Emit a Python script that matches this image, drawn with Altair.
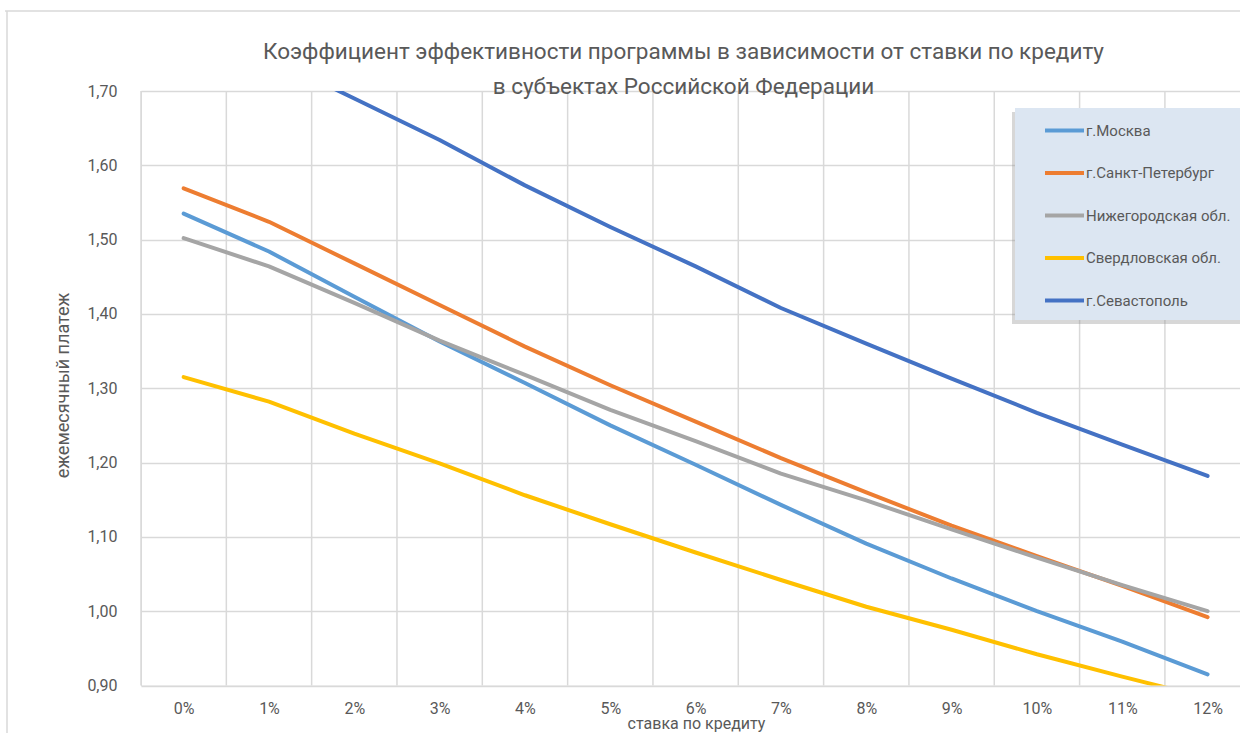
import altair as alt
import pandas as pd

# Credit rate (percent) on the horizontal axis
rates = [0, 1, 2, 3, 4, 5, 6, 7, 8, 9, 10, 11, 12]

regions = [
    "г.Москва",
    "г.Санкт-Петербург",
    "Нижегородская обл.",
    "Свердловская обл.",
    "г.Севастополь",
]
colors = ["#5B9BD5", "#ED7D31", "#A5A5A5", "#FFC000", "#4472C4"]

moscow = [1.535, 1.484, 1.423, 1.363, 1.307, 1.250, 1.197, 1.143, 1.091, 1.044, 1.000, 0.959, 0.915]
spb = [1.569, 1.524, 1.468, 1.412, 1.356, 1.304, 1.255, 1.206, 1.160, 1.115, 1.074, 1.034, 0.992]
nizhny = [1.502, 1.464, 1.415, 1.364, 1.318, 1.271, 1.229, 1.185, 1.149, 1.110, 1.072, 1.035, 1.000]
sverdlovsk = [1.315, 1.282, 1.239, 1.199, 1.156, 1.117, 1.079, 1.042, 1.006, 0.975, 0.942, 0.912, 0.883]
sevastopol = [1.800, 1.745, 1.690, 1.634, 1.573, 1.517, 1.464, 1.408, 1.360, 1.313, 1.267, 1.224, 1.182]

y_ticks = [0.90, 1.00, 1.10, 1.20, 1.30, 1.40, 1.50, 1.60, 1.70]

series = [moscow, spb, nizhny, sverdlovsk, sevastopol]
rows = []
for name, vals in zip(regions, series):
    for r, v in zip(rates, vals):
        rows.append({"rate": r, "value": v, "region": name})
df = pd.DataFrame(rows)

# category boundaries for the vertical grid
bounds = pd.DataFrame({"b": [r - 0.5 for r in rates]})

FONT = "Roboto"
TXT = "#595959"
GRID = "#D9D9D9"

x_scale = alt.Scale(domain=[-0.5, 12.38], nice=False, zero=False)
y_scale = alt.Scale(domain=[0.9, 1.7], nice=False, zero=False)

x_axis = alt.Axis(
    values=rates,
    labelExpr="datum.value + '%'",
    grid=False,
    ticks=False,
    domain=False,
    labelPadding=15,
    labelFontSize=16,
    labelColor=TXT,
    labelFont=FONT,
    title="ставка по кредиту",
    titleFont=FONT,
    titleFontSize=16,
    titleFontWeight="normal",
    titleColor=TXT,
    titleX=555,
    titleY=30,
)

vgrid = alt.Chart(bounds).mark_rule(color=GRID, strokeWidth=1.5).encode(
    x=alt.X("b:Q", scale=x_scale, axis=x_axis)
)

lines = alt.Chart(df).mark_line(strokeWidth=4, strokeCap="round", strokeJoin="round", clip=True).encode(
    x=alt.X("rate:Q", scale=x_scale, axis=x_axis),
    y=alt.Y(
        "value:Q",
        scale=y_scale,
        axis=alt.Axis(
            values=y_ticks,
            labelExpr="replace(format(datum.value, '.2f'), '.', ',')",
            grid=True,
            gridColor=GRID,
            gridWidth=1.5,
            ticks=False,
            domain=False,
            labelPadding=24,
            labelFontSize=16,
            labelColor=TXT,
            labelFont=FONT,
            title="ежемесячный платеж",
            titleFont=FONT,
            titleFontSize=18,
            titleFontWeight="normal",
            titleColor=TXT,
            titleX=-78,
            titleY=294,
            titleAlign="center",
            titleBaseline="middle",
        ),
    ),
    color=alt.Color(
        "region:N",
        scale=alt.Scale(domain=regions, range=colors),
        sort=regions,
        legend=alt.Legend(
            title=None,
            orient="none",
            legendX=902,
            legendY=18,
            symbolType="stroke",
            symbolSize=1521,
            symbolStrokeWidth=4,
            labelOffset=0,
            rowPadding=12.5,
            padding=0,
            labelFont=FONT,
            labelFontSize=15,
            labelColor=TXT,
        ),
    ),
    detail="region:N",
)

one = pd.DataFrame({"k": [0]})

# legend panel with a soft drop shadow
shadow = alt.Chart(one).mark_rect(color="#8C8C8C", opacity=0.35).encode(
    x=alt.value(871), x2=alt.value(1120), y=alt.value(21), y2=alt.value(233)
)
panel = alt.Chart(one).mark_rect(color="#DCE6F2").encode(
    x=alt.value(874), x2=alt.value(1120), y=alt.value(17), y2=alt.value(229)
)

# outer chart frame
frame_left = alt.Chart(one).mark_rule(color=GRID, strokeWidth=1.5).encode(
    x=alt.value(-134), y=alt.value(-80), y2=alt.value(660)
)
frame_top = alt.Chart(one).mark_rule(color=GRID, strokeWidth=1.5).encode(
    x=alt.value(-136), x2=alt.value(1120), y=alt.value(-80)
)

chart = alt.layer(frame_left, frame_top, vgrid, lines, shadow, panel).resolve_scale(
    x="shared", y="shared"
).properties(
    width=1099,
    height=594.5,
    padding={"left": 141, "top": 91, "right": 0, "bottom": 47},
    autosize=alt.AutoSizeParams(type="none"),
    title=alt.TitleParams(
        text=[
            "Коэффициент эффективности программы в зависимости от ставки по кредиту",
            "в субъектах Российской Федерации",
        ],
        font=FONT,
        fontSize=22.5,
        fontWeight="normal",
        color=TXT,
        anchor="middle",
        frame="group",
        dx=-7,
        offset=-88,
        lineHeight=35,
    ),
).configure_view(stroke=None).configure(background="white")

chart.save("out.html", embed_options={"renderer": "svg", "actions": False})
